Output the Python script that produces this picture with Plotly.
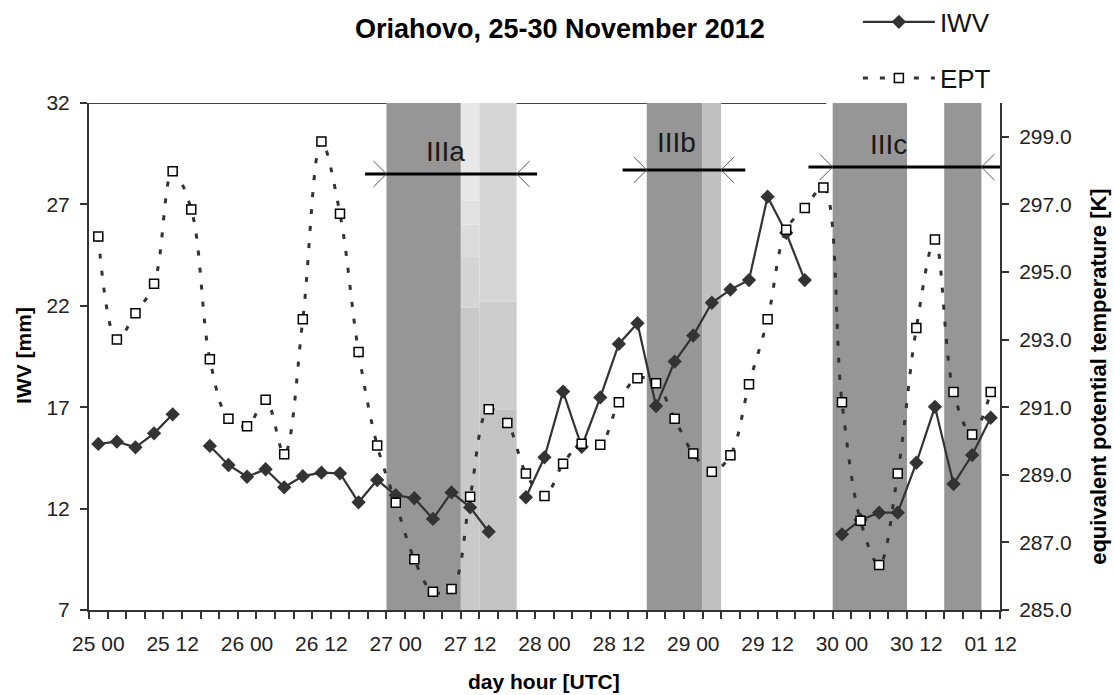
import plotly.graph_objects as go

# ---------------- data ----------------
cat_index = list(range(49))  # 3-hourly categories 25 00 ... 01 00
tick_positions = [0, 4, 8, 12, 16, 20, 24, 28, 32, 36, 40, 44, 48]
tick_labels = ["25 00", "25 12", "26 00", "26 12", "27 00", "27 12", "28 00",
               "28 12", "29 00", "29 12", "30 00", "30 12", "01 12"]

iwv = [15.19, 15.30, 15.02, 15.71, 16.65, None,
       15.09, 14.15, 13.57, 13.94, 13.05, 13.60, 13.77, 13.74, 12.31, 13.41,
       12.66, 12.51, 11.49, 12.80, 12.06, 10.86, None,
       12.56, 14.53, 17.77, 15.05, 17.48, 20.12, 21.14, 17.06, 19.25, 20.53,
       22.15, 22.80, 23.27, 27.38, 25.60, 23.27, None,
       10.73, 11.44, 11.80, 11.80, 14.26, 17.02, 13.21, 14.64, 16.48]

ept = [296.05, 293.00, 293.78, 294.65, 297.98, 296.85, 292.42, 290.66, 290.44,
       291.22, 289.61, 293.60, 298.86, 296.72, 292.63, 289.87, 288.17, 286.50,
       285.54, 285.62, 288.35, 290.94, 290.53, 289.04, 288.37, 289.33, 289.92,
       289.89, 291.15, 291.86, 291.71, 290.66, 289.63, 289.09, 289.58, 291.68,
       293.60, 296.25, 296.89, 297.50, 291.15, 287.64, 286.33, 289.04, 293.34,
       295.96, 291.45, 290.19, 291.45]

period_names = ["IIIa", "IIIb", "IIIc"]
period_bounds = [(15.5, 22.5), (29.5, 33.5), (39.5, 47.5)]
period_bar_extent = [(14.35, 23.6), (28.2, 34.8), (38.2, 48.5)]
period_bar_y = [28.5, 28.7, 28.84]
period_label_pos = [(18.65, 29.6), (31.1, 30.05), (42.5, 29.95)]

dark_spans = [(15.5, 19.5), (29.5, 32.5), (39.5, 43.5), (45.5, 47.5)]
# light shaded blocks: (x0, x1, y0, y1, colour)  y in IWV units
light_blocks = [
    (19.5, 20.5, 7, 21.9, "#c9c9c9"),
    (19.5, 20.5, 21.9, 24.4, "#d5d5d5"),
    (19.5, 20.5, 24.4, 26.0, "#dcdcdc"),
    (19.5, 20.5, 26.0, 27.2, "#e1e1e1"),
    (19.5, 20.5, 27.2, 32, "#e8e8e8"),
    (20.5, 22.5, 7, 16.9, "#c3c3c3"),
    (20.5, 22.5, 16.9, 22.2, "#cdcdcd"),
    (20.5, 22.5, 22.2, 32, "#d6d6d6"),
    (32.5, 33.5, 7, 32, "#c0c0c0"),
]
top_border_segments = [(-0.5, 15.5), (22.5, 29.5), (33.5, 39.15)]

# ---------------- figure ----------------
fig = go.Figure()

fig.add_trace(go.Scatter(
    x=cat_index, y=iwv, name="IWV", mode="lines+markers",
    line=dict(color="#333333", width=2.2),
    marker=dict(symbol="diamond", size=11, color="#333333"),
    connectgaps=False, legend="legend", showlegend=True))

fig.add_trace(go.Scatter(
    x=cat_index, y=ept, name="EPT", yaxis="y2", mode="lines+markers",
    line=dict(color="#333333", width=3, dash="5px,12px", shape="spline", smoothing=1.0),
    marker=dict(symbol="square", size=9, color="white", line=dict(color="black", width=1.5)),
    legend="legend2", showlegend=True))

shapes = []
for x0, x1 in dark_spans:
    shapes.append(dict(type="rect", xref="x", yref="y", x0=x0, x1=x1, y0=7, y1=32,
                       fillcolor="#969696", line=dict(width=0), layer="below"))
for x0, x1, y0, y1, c in light_blocks:
    shapes.append(dict(type="rect", xref="x", yref="y", x0=x0, x1=x1, y0=y0, y1=y1,
                       fillcolor=c, line=dict(width=0), layer="below"))
for x0, x1 in top_border_segments:
    shapes.append(dict(type="line", xref="x", yref="y", x0=x0, x1=x1, y0=32, y1=32,
                       line=dict(color="#444444", width=2)))

annotations = []
for name, (b0, b1), (e0, e1), yb, (lx, ly) in zip(period_names, period_bounds,
                                                  period_bar_extent, period_bar_y,
                                                  period_label_pos):
    shapes.append(dict(type="line", xref="x", yref="y", x0=e0, x1=e1, y0=yb, y1=yb,
                       line=dict(color="black", width=3)))
    for tip, d in ((b0, -1), (b1, 1)):
        for s in (-1, 1):
            shapes.append(dict(type="line", xref="x", yref="y", x0=tip, y0=yb,
                               x1=tip + d * 0.7, y1=yb + s * 0.64,
                               line=dict(color="#555555", width=1)))
    annotations.append(dict(x=lx, y=ly, xref="x", yref="y", text=name, showarrow=False,
                            font=dict(family="Liberation Sans, Arial", size=28, color="#1a1a1a")))

annotations += [
    dict(x=0.517, y=1.146, xref="paper", yref="paper", text="<b>Oriahovo, 25-30 November 2012</b>",
         showarrow=False, xanchor="center", yanchor="middle",
         font=dict(family="Liberation Sans, Arial", size=27, color="black")),
    dict(x=-0.0714, y=0.503, xref="paper", yref="paper", text="<b>IWV [mm]</b>", textangle=-90,
         showarrow=False, xanchor="center", yanchor="middle",
         font=dict(family="Liberation Sans, Arial", size=21, color="black")),
    dict(x=1.1087, y=0.46, xref="paper", yref="paper",
         text="<b>equivalent potential temperature [K]</b>", textangle=-90,
         showarrow=False, xanchor="center", yanchor="middle",
         font=dict(family="Liberation Sans, Arial", size=22, color="black")),
    dict(x=0.4995, y=-0.142, xref="paper", yref="paper", text="<b>day hour [UTC]</b>",
         showarrow=False, xanchor="center", yanchor="middle",
         font=dict(family="Liberation Sans, Arial", size=21, color="black")),
]

tickfont = dict(family="Liberation Sans, Arial", size=21, color="#222222")
legfont = dict(family="Liberation Sans, Arial", size=26, color="#111111")

fig.update_layout(
    width=1114, height=695,
    margin=dict(l=89, r=114, t=103, b=85, autoexpand=False),
    paper_bgcolor="white", plot_bgcolor="white",
    showlegend=True,
    shapes=shapes, annotations=annotations,
    xaxis=dict(range=[-0.5, 48.5], tickvals=tick_positions, ticktext=tick_labels,
               ticks="", showgrid=False, zeroline=False, showline=True,
               linecolor="#333333", linewidth=2, tickfont=tickfont, ticklabelstandoff=14,
               minor=dict(ticks="outside", ticklen=7, tick0=-0.5, dtick=1,
                          tickcolor="#333333", tickwidth=1.5, showgrid=False)),
    yaxis=dict(range=[7, 32], tickvals=[7, 12, 17, 22, 27, 32], ticks="outside", ticklen=7,
               tickcolor="#333333", tickwidth=1.5, showgrid=False, zeroline=False,
               showline=True, linecolor="#333333", linewidth=2, tickfont=tickfont,
               ticklabelstandoff=6),
    yaxis2=dict(range=[285, 300], tickvals=[285, 287, 289, 291, 293, 295, 297, 299],
                tickformat=".1f", overlaying="y", side="right", ticks="outside", ticklen=7,
                tickcolor="#333333", tickwidth=1.5, showgrid=False, zeroline=False,
                showline=True, linecolor="#333333", linewidth=2, tickfont=tickfont,
                ticklabelstandoff=6),
    legend=dict(x=0.844, y=1.16, xanchor="left", yanchor="middle", itemwidth=72,
                bgcolor="rgba(0,0,0,0)", font=legfont),
    legend2=dict(x=0.844, y=1.049, xanchor="left", yanchor="middle", itemwidth=72,
                 bgcolor="rgba(0,0,0,0)", font=legfont),
)

fig.write_html("out.html")
